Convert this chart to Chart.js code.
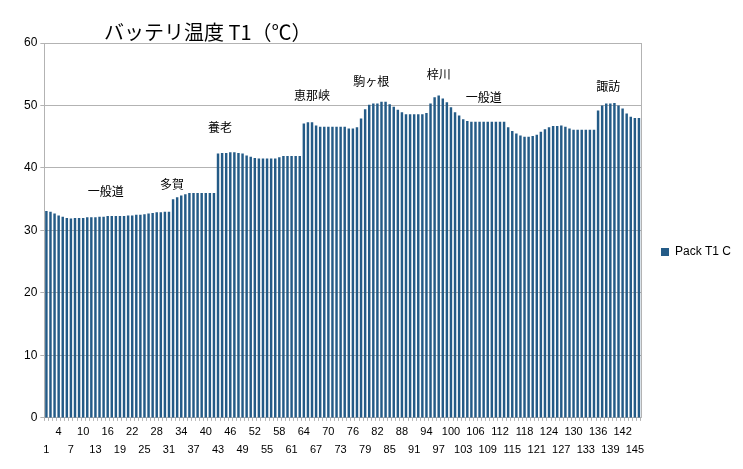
<!DOCTYPE html>
<html>
<head>
<meta charset="utf-8">
<script src="https://cdn.jsdelivr.net/npm/chart.js@4"></script>
<style>
  body { margin: 0; background: #fff; }
  #wrap { width: 743px; height: 469px; }
</style>
</head>
<body>
<div id="wrap"><canvas id="chart"></canvas></div>
<script>
// values
const temps = [
  33.1, 33.0, 32.7, 32.4, 32.2, 32.0, 31.9, 32.0, 32.0, 32.0, 32.1, 32.1, 32.1, 32.2, 32.2, 32.3,
  32.3, 32.3, 32.3, 32.3, 32.4, 32.4, 32.5, 32.5, 32.6, 32.7, 32.8, 32.9, 32.9, 33.0, 33.0,
  35.0, 35.3, 35.6, 35.8, 36.0, 36.0, 36.0, 36.0, 36.0, 36.0, 36.0,
  42.3, 42.4, 42.4, 42.5, 42.5, 42.4, 42.3, 42.0, 41.8, 41.6, 41.5, 41.5, 41.5, 41.5, 41.5,
  41.7, 41.9, 41.9, 41.9, 41.9, 41.9,
  47.1, 47.3, 47.3, 46.8, 46.6, 46.6, 46.6, 46.6, 46.6, 46.6, 46.6, 46.3, 46.3, 46.5, 47.9,
  49.4, 50.1, 50.3, 50.3, 50.6, 50.6, 50.2, 49.8, 49.3, 48.9, 48.6, 48.6, 48.6, 48.6, 48.6, 48.8,
  50.3, 51.3, 51.6, 51.1, 50.5, 49.7, 48.9, 48.4, 47.8, 47.5,
  47.4, 47.4, 47.4, 47.4, 47.4, 47.4, 47.4, 47.4, 47.4,
  46.5, 45.9, 45.5, 45.2, 45.0, 45.0, 45.1, 45.3, 45.8, 46.2, 46.5, 46.7, 46.7, 46.8, 46.6, 46.3,
  46.1, 46.1, 46.1, 46.1, 46.1, 46.1,
  49.2, 50.0, 50.3, 50.3, 50.4, 50.0, 49.5, 48.7, 48.2, 48.0, 48.0
];
const labels = temps.map((v, i) => String(i + 1));

// place names written over the bars: text, bar number, height in °C
const placeNames = ['一般道', '多賀', '養老', '恵那峡', '駒ヶ根', '梓川', '一般道', '諏訪'];
const placeBars = [15.5, 31.75, 43.5, 66, 80.5, 97, 108, 138.5];
const placeValues = [36.2, 37.3, 46.5, 51.6, 53.9, 55, 51.3, 53];

const font = '"Liberation Sans", "Noto Sans CJK JP", sans-serif';

const placePlugin = {
  id: 'places',
  afterDatasetsDraw(chart) {
    const { ctx, scales } = chart;
    ctx.save();
    ctx.fillStyle = '#000';
    ctx.textAlign = 'center';
    ctx.textBaseline = 'middle';
    ctx.font = '12px "Noto Sans CJK JP", sans-serif';
    placeNames.forEach((name, k) => {
      const x = scales.x.getPixelForValue(placeBars[k] - 1);
      const y = scales.y.getPixelForValue(placeValues[k]);
      ctx.fillText(name, x, y);
    });
    ctx.font = '20px "Noto Sans CJK JP", sans-serif';
    ctx.textAlign = 'left';
    ctx.fillText('バッテリ温度 T1（℃）', 104, 32);
    // right border of the plot
    ctx.strokeStyle = '#b3b3b3';
    ctx.beginPath();
    ctx.moveTo(chart.chartArea.right + 0.5, chart.chartArea.top);
    ctx.lineTo(chart.chartArea.right + 0.5, chart.chartArea.bottom);
    ctx.stroke();
    ctx.restore();
  }
};

new Chart(document.getElementById('chart'), {
  type: 'bar',
  data: {
    labels: labels,
    datasets: [{
      label: 'Pack T1 C',
      data: temps,
      backgroundColor: '#245b87',
      barPercentage: 0.6,
      categoryPercentage: 1.0
    }]
  },
  options: {
    responsive: true,
    maintainAspectRatio: false,
    animation: false,
    layout: { padding: { top: 43, left: 21, right: 2, bottom: 8 } },
    plugins: {
      title: { display: false },
      tooltip: { enabled: false },
      legend: {
        position: 'right',
        labels: {
          boxWidth: 8, boxHeight: 8, color: '#000', padding: 20,
          font: { family: font, size: 12 }
        }
      }
    },
    scales: {
      x: {
        grid: { drawOnChartArea: false, drawTicks: true, tickLength: 3, color: '#b3b3b3' },
        border: { color: '#b3b3b3' },
        ticks: {
          autoSkip: false, maxRotation: 0, minRotation: 0, padding: 3,
          color: '#000', font: { family: font, size: 11, lineHeight: 1.55 },
          callback: (v, i) => {
            if (i % 6 === 3) return [labels[i], ''];
            if (i % 6 === 0) return ['', labels[i]];
            return '';
          }
        }
      },
      y: {
        min: 0, max: 60,
        ticks: { stepSize: 10, color: '#000', font: { family: font, size: 12 } },
        grid: { color: '#b3b3b3', tickLength: 4 },
        border: { color: '#b3b3b3' }
      }
    }
  },
  plugins: [placePlugin]
});
</script>
</body>
</html>
